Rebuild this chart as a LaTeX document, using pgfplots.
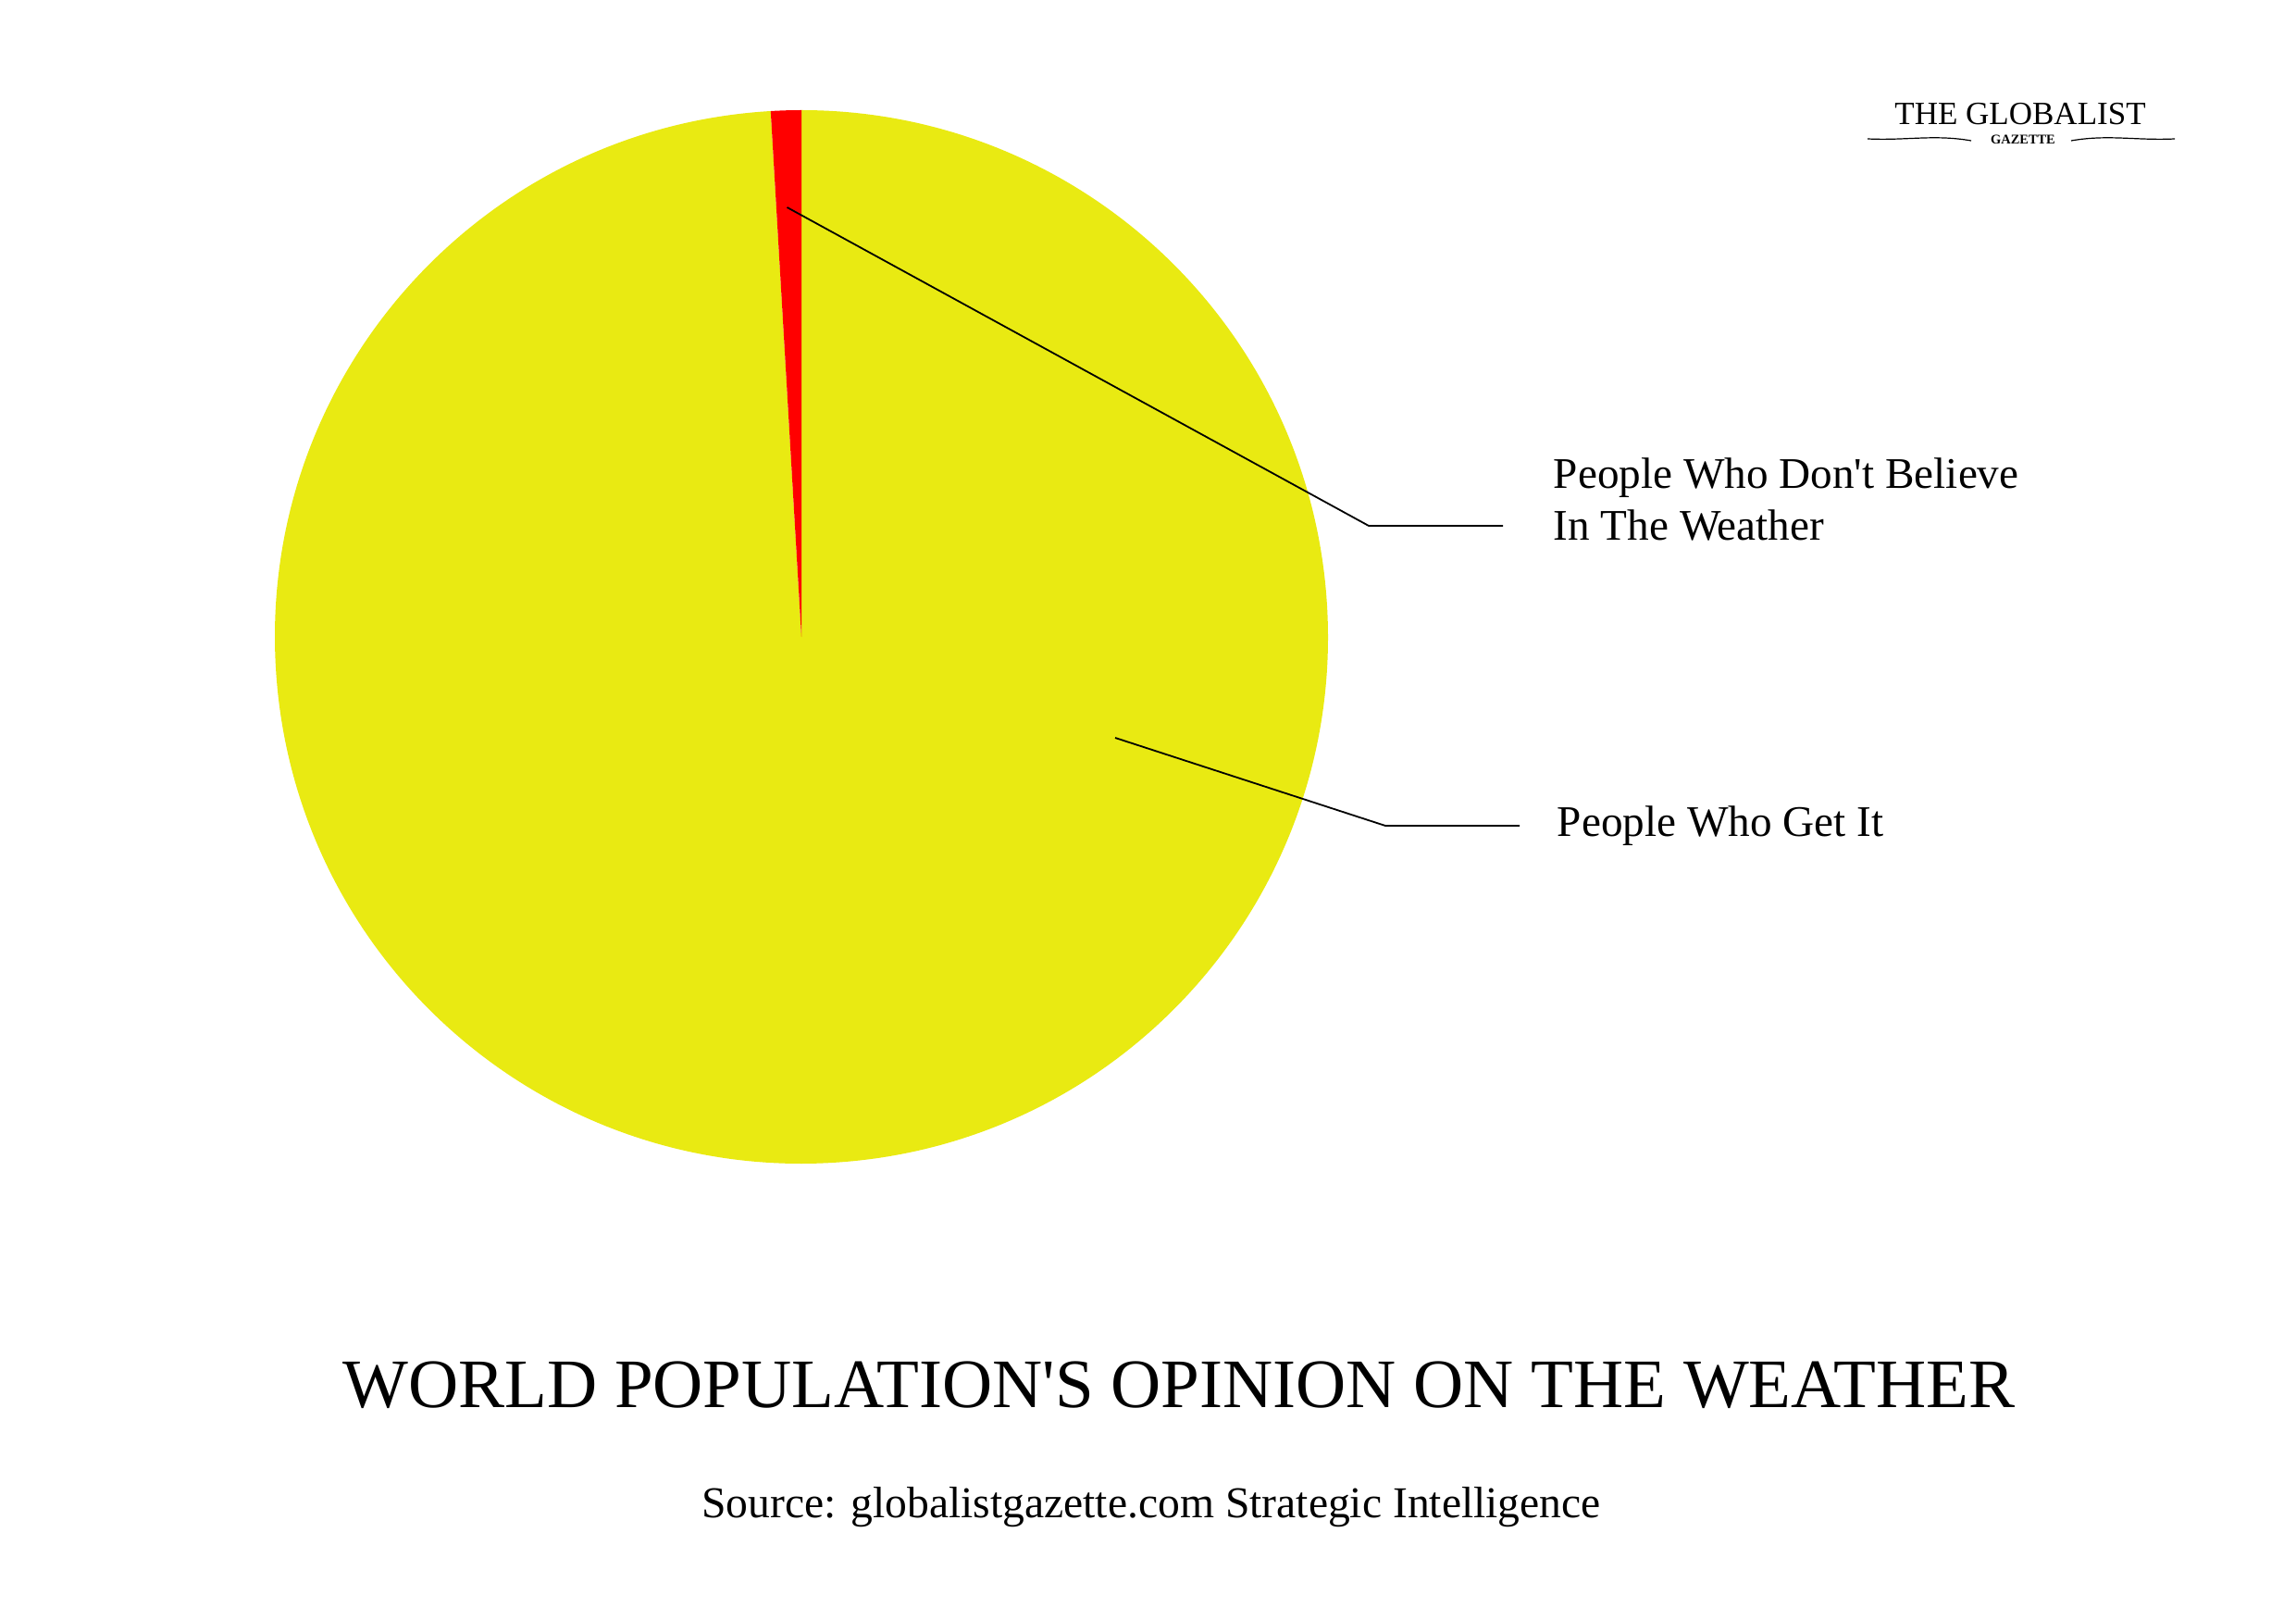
\documentclass[border=0pt]{standalone}
\usepackage{pgfplots}
\pgfplotsset{compat=1.18}
\usepackage{pgfplotstable}
\usepackage{fontspec}
\setmainfont{Liberation Serif}
\newfontfamily\rawserif{Liberation Serif}
\definecolor{pieyellow}{RGB}{233,234,18}
\definecolor{piered}{RGB}{255,0,0}

\pgfplotstableread{
share
0.93
99.07
}\piedata

\begin{document}%
\begin{tikzpicture}
\pgfplotstablegetelem{0}{share}\of\piedata
\pgfmathsetmacro{\va}{\pgfplotsretval}
\pgfplotstablegetelem{1}{share}\of\piedata
\pgfmathsetmacro{\vb}{\pgfplotsretval}
\pgfmathsetmacro{\aMid}{90+360*\va/(\va+\vb)}
\def\R{142.25pt}
\begin{axis}[
  x=0.25pt, y=0.25pt,
  xmin=0, xmax=2481, ymin=0, ymax=1749,
  hide axis, clip=false,
]
\path (axis cs:0,0) rectangle (axis cs:2481,1749);
% pie slices
\fill[pieyellow] (axis cs:866,1061) -- ++(\aMid:\R) arc[start angle=\aMid, end angle=450, radius=\R] -- cycle;
\fill[piered] (axis cs:866,1061) -- ++(90:\R) arc[start angle=90, end angle=\aMid, radius=\R] -- cycle;
% leader lines
\draw[black, line width=0.45pt] (axis cs:850.5,1525) -- (axis cs:1479,1181) -- (axis cs:1624,1181);
\draw[black, line width=0.45pt] (axis cs:1205,952) -- (axis cs:1497,857) -- (axis cs:1642,857);
% labels
\node[anchor=base west, inner sep=0pt, font=\rawserif\fontsize{11.8pt}{14pt}\selectfont] at (axis cs:1678,1221) {People Who Don't Believe};
\node[anchor=base west, inner sep=0pt, font=\rawserif\fontsize{11.8pt}{14pt}\selectfont] at (axis cs:1678,1166) {In The Weather};
\node[anchor=base west, inner sep=0pt, font=\rawserif\fontsize{11.8pt}{14pt}\selectfont] at (axis cs:1682,846) {People Who Get It};
% title and source
\node[anchor=base, inner sep=0pt, font=\rawserif\fontsize{18.75pt}{22pt}\selectfont] at (axis cs:1274,229) {WORLD POPULATION'S OPINION ON THE WEATHER};
\node[anchor=base, inner sep=0pt, font=\rawserif\fontsize{11.9pt}{14pt}\selectfont] at (axis cs:1244,110) {Source: globalistgazette.com Strategic Intelligence};
% logo
\node[anchor=base, inner sep=0pt, font=\rawserif\fontsize{8.75pt}{10pt}\selectfont] at (axis cs:2183,1614) {THE GLOBALIST};
\node[anchor=base, inner sep=0pt, font=\rawserif\fontsize{3.6pt}{4pt}\selectfont\bfseries] at (axis cs:2186,1593) {GAZETTE};
\draw[black, line width=0.3pt] (axis cs:2018,1599) .. controls (axis cs:2060,1597) and (axis cs:2090,1604) .. (axis cs:2130,1597);
\draw[black, line width=0.3pt] (axis cs:2238,1597) .. controls (axis cs:2278,1604) and (axis cs:2308,1597) .. (axis cs:2350,1599);
\end{axis}
\end{tikzpicture}%
\end{document}
